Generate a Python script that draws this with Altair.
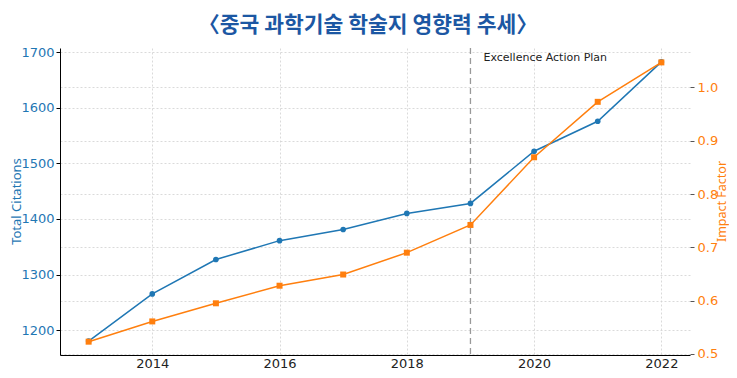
import altair as alt
import pandas as pd

years = [2013, 2014, 2015, 2016, 2017, 2018, 2019, 2020, 2021, 2022]
citations = [1180, 1265, 1327, 1361, 1381, 1410, 1428, 1522, 1576, 1683]
impact = [0.523, 0.561, 0.595, 0.628, 0.649, 0.690, 0.742, 0.869, 0.973, 1.047]
event_year = [2019]
event_label = ["Excellence Action Plan"]

df = pd.DataFrame({"year": years, "citations": citations, "impact": impact})
ev = pd.DataFrame({"year": event_year, "label": event_label})

BLUE = "#1f77b4"
ORANGE = "#ff7f0e"
GRID = dict(grid=True, gridColor="#d0d0d0", gridDash=[2, 2], gridWidth=0.8)

xenc = alt.X("year:Q", scale=alt.Scale(domain=[2012.55, 2022.45], nice=False, zero=False),
             axis=alt.Axis(values=[2014, 2016, 2018, 2020, 2022], format="d", title=None,
                           labelFont="DejaVu Sans", labelFontSize=13, labelColor="#222222",
                           domainColor="#000000", ticks=False, labelPadding=2, **GRID))

base = alt.Chart(df)

yc = alt.Y("citations:Q", scale=alt.Scale(domain=[1155, 1708], nice=False, zero=False),
           axis=alt.Axis(orient="left", values=[1200, 1300, 1400, 1500, 1600, 1700], format="d",
                         title="Total Citations", titleColor=BLUE, titleFont="Noto Sans",
                         titleFontSize=13, titleFontWeight="normal",
                         titleX=-44, titleY=153, titleAngle=270, titleBaseline="middle",
                         titleAlign="center",
                         labelColor=BLUE, labelFont="DejaVu Sans", labelFontSize=13,
                         labelPadding=2, tickSize=4,
                         domainColor="#000000", tickColor="#000000", **GRID))
left = alt.layer(
    base.mark_line(color=BLUE, strokeWidth=1.5).encode(x=xenc, y=yc),
    base.mark_point(color=BLUE, filled=True, opacity=1, size=32, shape="circle").encode(x=xenc, y=yc),
)

yi = alt.Y("impact:Q", scale=alt.Scale(domain=[0.498, 1.074], nice=False, zero=False),
           axis=alt.Axis(orient="right", values=[0.5, 0.6, 0.7, 0.8, 0.9, 1.0], format=".1f",
                         title="Impact Factor", titleColor=ORANGE, titleFont="Noto Sans",
                         titleFontSize=12.5, titleFontWeight="normal",
                         titleX=31, titleY=153, titleAngle=270, titleBaseline="middle",
                         titleAlign="center",
                         labelColor=ORANGE, labelFont="DejaVu Sans", labelFontSize=13,
                         labelPadding=3, tickSize=4,
                         domain=False, tickColor="#555555", **GRID))
right = alt.layer(
    base.mark_line(color=ORANGE, strokeWidth=1.5).encode(x=xenc, y=yi),
    base.mark_point(color=ORANGE, filled=True, opacity=1, size=36, shape="square").encode(x=xenc, y=yi),
)

rule = alt.Chart(ev).mark_rule(color="#999999", strokeDash=[6, 4], strokeWidth=1.3).encode(
    x=alt.X("year:Q"))
text = alt.Chart(ev).mark_text(align="left", baseline="middle", dx=13, fontSize=11,
                               font="DejaVu Sans", color="#222222").encode(
    x=alt.X("year:Q"), y=alt.value(10), text="label:N")

chart = alt.layer(rule, text, left, right).resolve_scale(y="independent").properties(
    width=630, height=307,
    title=alt.Title("〈중국 과학기술 학술지 영향력 추세〉", font="Noto Sans CJK KR", fontSize=21.5,
                    fontWeight="bold", color="#1c57a3", anchor="middle", offset=10, dx=-7),
    autosize=alt.AutoSizeParams(type="none"),
    padding={"left": 52, "top": 40, "right": 39, "bottom": 15},
).configure_view(stroke=None)

chart.save("out.html", embed_options={"renderer": "svg", "actions": False})
